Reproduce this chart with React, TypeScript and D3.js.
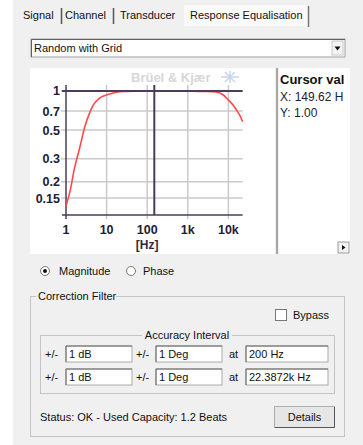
import React from 'react'
import * as d3 from 'd3'

// frequency response (Hz, linear magnitude)
const freqs = [1, 1.25, 1.6, 2.2, 2.9, 3.7, 4.5, 5.7, 7.5, 10, 14.6, 21, 30, 50, 100, 500, 1000, 2000, 3000, 5000, 7500, 10000, 13000, 16000, 19000, 22387]
const mags = [0.13, 0.168, 0.25, 0.37, 0.53, 0.66, 0.76, 0.84, 0.9, 0.93, 0.965, 0.985, 0.99, 0.995, 1, 1, 1, 0.99, 0.99, 0.98, 0.93, 0.85, 0.78, 0.71, 0.65, 0.58]

const xTicks = [1, 10, 100, 1000, 10000]
const xTickLabels = ['1', '10', '100', '1k', '10k']
const yTicks = [1, 0.7, 0.5, 0.3, 0.2, 0.15]
const yTickLabels = ['1', '0.7', '0.5', '0.3', '0.2', '0.15']

const cursorX = 149.62
const cursorY = 1.0

const tabs = ['Signal', 'Channel', 'Transducer']
const rows = [
  { db: '1 dB', deg: '1 Deg', at: '200 Hz' },
  { db: '1 dB', deg: '1 Deg', at: '22.3872k Hz' },
]

const ui = "'Liberation Sans', Arial, sans-serif"
const grey = '#f0f0f0'
const fs = 11

function TextBox({ x, y, w, h, text }: { x: number; y: number; w: number; h: number; text: string }) {
  return (
    <g>
      <rect x={x} y={y} width={w} height={h} fill="#fff" stroke="#aaa" />
      <path d={`M${x},${y + h} V${y} H${x + w}`} fill="none" stroke="#666" />
      <text x={x + 3} y={y + h - 4} fontSize={fs} fill="#111">{text}</text>
    </g>
  )
}

export default function App() {
  const x = d3.scaleLog().domain([1, 22387]).range([66, 242.6])
  const y = d3.scaleLog().domain([0.111, 1.11]).range([215, 85])

  const pts: [number, number][] = freqs.map((f, i) => [x(f), y(mags[i])])
  const line = d3.line().curve(d3.curveMonotoneX)(pts) || ''

  const axisCol = '#4b3b5c'
  const plotText = '#1e2035'

  return (
    <svg width={363} height={445} style={{ position: 'absolute', left: 0, top: 0 }} fontFamily={ui}>
      <rect width={363} height={445} fill="#fff" />
      <rect x={13} y={0} width={350} height={445} fill={grey} />

      {/* tabs */}
      <rect x={184} y={5} width={124} height={21} fill="#fafafa" />
      <line x1={308.5} y1={6} x2={308.5} y2={27} stroke="#777" strokeWidth={1.5} />
      {tabs.map((t, i) => {
        const xs = [23, 65, 120]
        return (
          <text key={t} x={xs[i]} y={19} fontSize={fs} fill="#111">{t}</text>
        )
      })}
      <line x1={61.5} y1={8} x2={61.5} y2={24} stroke="#555" strokeWidth={1.5} />
      <line x1={113.5} y1={8} x2={113.5} y2={24} stroke="#555" strokeWidth={1.5} />
      <text x={190} y={19} fontSize={fs} fill="#111">Response Equalisation</text>

      {/* dropdown */}
      <rect x={31} y={39} width={314} height={18} fill="#fff" stroke="#a0a0a0" />
      <path d="M31.5,57 V39.5 H345" fill="none" stroke="#606060" />
      <text x={34} y={52} fontSize={fs} fill="#111">Random with Grid</text>
      <rect x={332} y={41} width={11} height={14} fill="#f4f4f4" stroke="#c8c8c8" />
      <path d="M334.5,46.5 L340.5,46.5 L337.5,50.5 Z" fill="#111" />

      {/* chart panel */}
      <rect x={30} y={68} width={245} height={186} fill="#fff" />
      <rect x={276} y={68} width={2} height={186} fill="#a8a8a8" />
      <rect x={279} y={68} width={71} height={186} fill="#fff" />

      {/* watermark */}
      <text x={131} y={82} fontSize={13} fontWeight="bold" fill="#d6d6d6">Brüel &amp; Kjær</text>
      <g stroke="#c7d3ef" strokeWidth={1.5} fill="none">
        <line x1={221} y1={77} x2={239} y2={77} />
        <line x1={225} y1={72} x2={235} y2={82} />
        <line x1={225} y1={82} x2={235} y2={72} />
        <line x1={230} y1={71} x2={230} y2={83} />
      </g>

      {/* grid */}
      {yTicks.filter((v) => v !== 1).map((v) => (
        <line key={v} x1={61} x2={x.range()[1]} y1={y(v)} y2={y(v)} stroke="#cacaca" strokeWidth={1.5} />
      ))}
      {xTicks.map((v) => (
        <line key={v} x1={x(v)} x2={x(v)} y1={y.range()[1]} y2={219} stroke={v === 1 ? axisCol : '#cacaca'} strokeWidth={1.5} />
      ))}
      <line x1={61} x2={x.range()[1]} y1={y(1)} y2={y(1)} stroke="#cacaca" strokeWidth={1.5} />
      <line x1={62} x2={x.range()[1]} y1={y.range()[0]} y2={y.range()[0]} stroke={axisCol} strokeWidth={1.5} />

      {/* response */}
      <path d={line} fill="none" stroke="#ff4a4a" strokeWidth={1.6} />

      {/* cursor */}
      <line x1={62} x2={x.range()[1]} y1={y(cursorY)} y2={y(cursorY)} stroke={axisCol} strokeWidth={2} />
      <line x1={x(cursorX)} x2={x(cursorX)} y1={y.range()[1]} y2={y.range()[0]} stroke={axisCol} strokeWidth={2} />

      {/* tick labels */}
      {yTicks.map((v, i) => (
        <text key={v} x={60} y={y(v) + 4.5} textAnchor="end" fontSize={12.5} fontWeight="bold" fill={plotText}>{yTickLabels[i]}</text>
      ))}
      {xTicks.map((v, i) => (
        <text key={v} x={x(v)} y={234} textAnchor="middle" fontSize={12.5} fontWeight="bold" fill={plotText}>{xTickLabels[i]}</text>
      ))}
      <text x={x(100)} y={249} textAnchor="middle" fontSize={12} fontWeight="bold" fill="#2d2a3e">[Hz]</text>

      {/* cursor values */}
      <text x={280} y={84} fontSize={13} fontWeight="bold" fill="#111">Cursor val</text>
      <text x={280} y={101} fontSize={12} fill={plotText}>X: {cursorX.toFixed(2)} H</text>
      <text x={280} y={117} fontSize={12} fill={plotText}>Y: {cursorY.toFixed(2)}</text>
      <rect x={338} y={242} width={11} height={11} fill="#f2f2f2" stroke="#999" />
      <path d="M342,245 L345.5,247.5 L342,250 Z" fill="#111" />

      {/* radio buttons */}
      <circle cx={45} cy={271} r={4.5} fill="#fff" stroke="#777" />
      <circle cx={45} cy={271} r={2} fill="#111" />
      <text x={59} y={275} fontSize={fs} fill="#111">Magnitude</text>
      <circle cx={131} cy={271} r={4.5} fill="#fff" stroke="#777" />
      <text x={143} y={275} fontSize={fs} fill="#111">Phase</text>

      {/* correction filter group */}
      <rect x={30.5} y={296.5} width={314} height={140} fill="none" stroke="#c4c4c4" />
      <rect x={36} y={290} width={80} height={12} fill={grey} />
      <text x={38} y={300} fontSize={fs} fill="#111">Correction Filter</text>

      <rect x={275.5} y={309.5} width={11} height={11} fill="#fff" stroke="#777" />
      <text x={293} y={319} fontSize={fs} fill="#111">Bypass</text>

      <rect x={40.5} y={335.5} width={294} height={58} fill="none" stroke="#c4c4c4" />
      <rect x={142} y={329} width={90} height={12} fill={grey} />
      <text x={187} y={339} textAnchor="middle" fontSize={fs} fill="#111">Accuracy Interval</text>

      {rows.map((r, i) => {
        const top = 346 + i * 23
        return (
          <g key={i}>
            <text x={45} y={top + 12} fontSize={fs} fill="#111">+/-</text>
            <TextBox x={66} y={top} w={66} h={16} text={r.db} />
            <text x={136} y={top + 12} fontSize={fs} fill="#111">+/-</text>
            <TextBox x={156} y={top} w={66} h={16} text={r.deg} />
            <text x={229} y={top + 12} fontSize={fs} fill="#111">at</text>
            <TextBox x={246} y={top} w={82} h={16} text={r.at} />
          </g>
        )
      })}

      <text x={40} y={421} fontSize={fs} fill="#111">Status: OK - Used Capacity: 1.2 Beats</text>
      <rect x={274.5} y={406.5} width={60} height={21} fill="#e6e6e6" stroke="#adadad" />
      <path d="M275,427.5 H334.5 V407" fill="none" stroke="#555" />
      <text x={304.5} y={421} textAnchor="middle" fontSize={fs} fill="#111">Details</text>
    </svg>
  )
}
